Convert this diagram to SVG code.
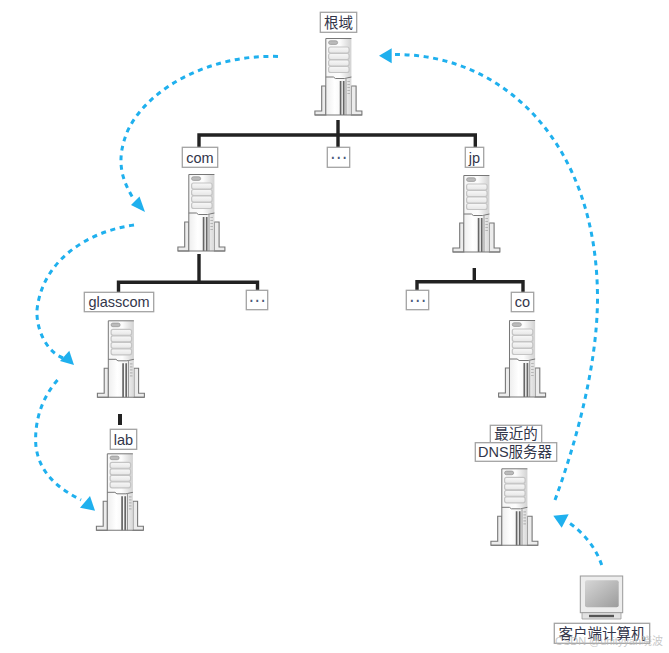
<svg xmlns="http://www.w3.org/2000/svg" width="669" height="653" viewBox="0 0 669 653">
<style>
.lb{fill:#fff;stroke:#a3a3a3;stroke-width:1.3}
.t{font-family:"Liberation Sans","Noto Sans CJK SC",sans-serif;font-size:14.5px;fill:#33364a;text-anchor:middle}
.d{font-family:"DejaVu Sans",sans-serif;font-size:17px;fill:#4a5a7a;text-anchor:middle}
.bus{fill:none;stroke:#222;stroke-width:3.4}
.fl{fill:none;stroke:#1fb0ee;stroke-width:3;stroke-dasharray:5 4.6}
.hd{fill:#1fb0ee}
.wm{font-family:"Liberation Sans","Noto Sans CJK SC",sans-serif;font-size:11.5px;fill:#b5b5b5;fill-opacity:.75}
.bay{fill:url(#g3);stroke:#c4c4c4;stroke-width:1.2}
</style>
<defs>
<linearGradient id="g1" x1="0" x2="1" y1="0" y2="0"><stop offset="0" stop-color="#f6f6f6"/><stop offset=".55" stop-color="#fcfcfc"/><stop offset="1" stop-color="#d2d2d2"/></linearGradient>
<linearGradient id="g2" x1="0" x2="1" y1="0" y2="0"><stop offset="0" stop-color="#eeeeee"/><stop offset=".35" stop-color="#fff"/><stop offset=".7" stop-color="#f4f4f4"/><stop offset="1" stop-color="#d8d8d8"/></linearGradient>
<linearGradient id="g3" x1="0" x2="0" y1="0" y2="1"><stop offset="0" stop-color="#f8f8f8"/><stop offset="1" stop-color="#e6e6e6"/></linearGradient>
<linearGradient id="g4" x1="0" x2="1" y1="0" y2="1"><stop offset="0" stop-color="#d6d6d6"/><stop offset="1" stop-color="#9c9c9c"/></linearGradient>
<symbol id="srv" overflow="visible" viewBox="-24 0 48 78" width="48" height="78">
<path d="M-23.5 77V73H-16.7V48H-12.5V77ZM23.5 77V73H17.7V48H13V77Z" fill="#ececec" stroke="#777" stroke-width="1.1"/>
<rect x="-12.6" y="0.5" width="25.6" height="39" fill="url(#g1)"/>
<path d="M-12.6 39H-5L-3 40.5H6L13 39V77H-12.6Z" fill="url(#g2)"/>
<path d="M-12.6 77V0.5H13M-12.6 39H-5L-3 40.5H6L13 39" fill="none" stroke="#777" stroke-width="1"/>
<rect x="-9.8" y="2.8" width="9" height="3.6" rx="1.8" fill="#bbb" stroke="#999" stroke-width=".8"/>
<rect class="bay" x="-9.8" y="9" width="20.5" height="6" rx="2"/>
<rect class="bay" x="-9.8" y="15.5" width="20.5" height="6" rx="2"/>
<rect class="bay" x="-9.8" y="22" width="20.5" height="6" rx="2"/>
<rect class="bay" x="-9.8" y="28.5" width="20.5" height="6" rx="2"/>
<path d="M2.2 43V77M5.3 43V77" stroke="#666" stroke-width="1.7"/>
<path d="M7.6 40V77" stroke="#999" stroke-width="1"/>
<path d="M9 43.5h2.6M9 46.5h2.6M9 49.5h2.6M9 52.5h2.6M9 55.5h2.6" stroke="#b5b5b5" stroke-width="1.2"/>
<path d="M-23.5 77H23.5" stroke="#777" stroke-width="1.1"/>
</symbol>
</defs>
<rect width="669" height="653" fill="#fff"/>
<g id="connectors">
<path class="bus" d="M199 148V135H475.3V148M338 120V148M199 254V282.3M118.5 292V282.3H257.5V291M474.3 268V281.7M417 291V281.7H523V292" />
<path class="bus" d="M120 414V425" style="stroke-width:4"/>
<path class="fl" d="M278 56.5C215 54 150 85 128 130C115 160 122 180 133 198"/>
<path class="hd" d="M145 212L131 205L139.5 196.5Z"/>
<path class="fl" d="M134 225C85 232 42 262 37 310C36 330 47 352 63 358"/>
<path class="hd" d="M74 365L60 361L69.3 350.7Z"/>
<path class="fl" d="M57.5 380C40 400 34 425 36 447C40 475 60 489 81 500"/>
<path class="hd" d="M95 510.7L80 507.7L90 496Z"/>
<path class="fl" d="M601.7 565C596 548 584 533 568 522"/>
<path class="hd" d="M553.3 515.7L568.7 514.3L561.7 527.7Z"/>
<path class="fl" d="M555 500C577 440 597 365 597.5 300C598 145 505 54 395 54.5"/>
<path class="hd" d="M379 55.7L391.7 48.3V63.3Z"/>
</g>
<g id="root"><use href="#srv" x="314.4" y="38"/><rect class="lb" x="320.3" y="12.3" width="36.4" height="20"/><text class="t" x="338.5" y="27.5">根域</text></g>
<g id="com"><use href="#srv" x="177.4" y="174"/><rect class="lb" x="182.3" y="147.3" width="35.4" height="20"/><text class="t" x="200" y="162.5">com</text></g>
<g id="dots-root"><rect class="lb" x="327.3" y="147.3" width="22.4" height="20"/><text class="d" x="338.5" y="163">⋯</text></g>
<g id="jp"><use href="#srv" x="452.4" y="175"/><rect class="lb" x="465.3" y="147.3" width="18.4" height="20"/><text class="t" x="474.5" y="162.5">jp</text></g>
<g id="glasscom"><use href="#srv" x="96.9" y="320.3"/><rect class="lb" x="84.3" y="292.3" width="69.4" height="19.4"/><text class="t" x="119" y="307">glasscom</text></g>
<g id="dots-com"><rect class="lb" x="246.3" y="290.3" width="21.4" height="19.4"/><text class="d" x="257" y="305.5">⋯</text></g>
<g id="lab"><use href="#srv" x="95.9" y="453.3"/><rect class="lb" x="110.3" y="429.3" width="26.4" height="20"/><text class="t" x="123.5" y="444.5">lab</text></g>
<g id="dots-jp"><rect class="lb" x="406.3" y="290.3" width="22.4" height="19.4"/><text class="d" x="417.5" y="305.5">⋯</text></g>
<g id="co"><use href="#srv" x="498.1" y="320"/><rect class="lb" x="511.3" y="292.3" width="22.4" height="19.4"/><text class="t" x="522.5" y="307">co</text></g>
<g id="nearest"><use href="#srv" x="490.4" y="468.3"/><rect class="lb" x="490.3" y="425.3" width="51.4" height="17.4"/><rect class="lb" x="475.3" y="442.7" width="81.4" height="18.6"/><text class="t" x="516" y="439">最近的</text><text class="t" x="515" y="457">DNS服务器</text></g>
<g id="client">
<rect x="580.3" y="576" width="42.4" height="36.7" fill="#ededed" stroke="#999" stroke-width="1"/>
<rect x="585" y="580.3" width="33.7" height="27" rx="2" fill="url(#g4)"/>
<path d="M582 612.7H621V619H582Z" fill="#e2e2e2" stroke="#999" stroke-width=".8"/>
<path d="M589 616H614" stroke="#555" stroke-width="2.4"/>
<rect class="lb" x="554.3" y="623.3" width="95.4" height="20"/>
<text class="t" x="602" y="638.5">客户端计算机</text>
</g>
<text class="wm" x="555" y="645" textLength="108" lengthAdjust="spacingAndGlyphs">CSDN @unityyan晓波</text>
</svg>
